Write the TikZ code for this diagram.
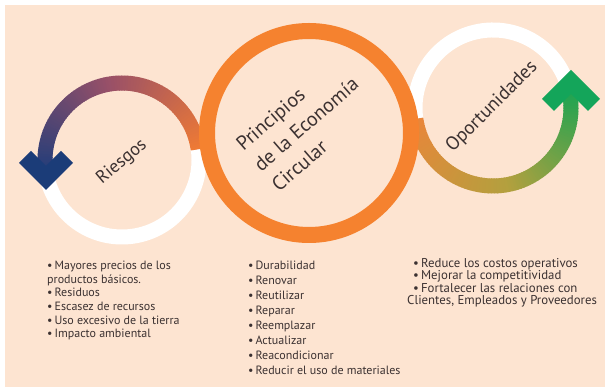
\documentclass[tikz,border=0pt]{standalone}
\usepackage{fontspec}
\setmainfont{PT Sans}
\definecolor{bg}{HTML}{FDE4D1}
\definecolor{txt}{HTML}{3B3131}
\definecolor{orangeM}{HTML}{F5822F}
\definecolor{orangeL}{HTML}{EE7A35}
\definecolor{mauveL}{HTML}{985068}
\definecolor{navyL}{HTML}{1F3D7A}
\definecolor{navyHead}{HTML}{1B3C78}
\definecolor{orangeR}{HTML}{E9863A}
\definecolor{oliveR}{HTML}{B3A03E}
\definecolor{greenR}{HTML}{1CA452}
\definecolor{greenHead}{HTML}{14A55A}
\tikzset{
  lbl/.style={inner sep=0pt, text=txt},
  lst/.style={anchor=north west, inner sep=0pt, align=left, text=txt},
  ringw/.style={white, line width=15pt},
}
\begin{document}
\begin{tikzpicture}[x=1pt,y=1pt]
\fill[white] (0,0) rectangle (605,387);
\fill[bg] (5,0) rectangle (605,382);
\useasboundingbox (0,0) rectangle (605,387);
\coordinate (L) at (122,227);
\coordinate (M) at (309,254);
\coordinate (R) at (493,279);
% white parts
\draw[ringw] ([shift={(188:77)}]L) arc[start angle=188, end angle=368, radius=77];
\draw[ringw] ([shift={(10:78)}]R) arc[start angle=10, end angle=188, radius=78];
% left gradient arc
\foreach \i in {0,...,89}{
  \pgfmathsetmacro\ga{8+\i*(184/90)}
  \pgfmathsetmacro\gb{\ga+184/90+0.6}
  \pgfmathsetmacro\gt{\i/89}
  \ifdim \gt pt < 0.5pt
    \pgfmathsetmacro\gp{\gt*200}
    \colorlet{segc}{mauveL!\gp!orangeL}
  \else
    \pgfmathsetmacro\gp{(\gt-0.5)*200}
    \colorlet{segc}{navyL!\gp!mauveL}
  \fi
  \draw[segc, line width=15pt] ([shift={(\ga:77)}]L) arc[start angle=\ga, end angle=\gb, radius=77];
}
% right gradient arc
\foreach \i in {0,...,89}{
  \pgfmathsetmacro\ga{-172+\i*(186/90)}
  \pgfmathsetmacro\gb{\ga+186/90+0.6}
  \pgfmathsetmacro\gt{\i/89}
  \ifdim \gt pt < 0.5pt
    \pgfmathsetmacro\gp{\gt*200}
    \colorlet{segc}{oliveR!\gp!orangeR}
  \else
    \pgfmathsetmacro\gp{(\gt-0.5)*200}
    \colorlet{segc}{greenR!\gp!oliveR}
  \fi
  \draw[segc, line width=15pt] ([shift={(\ga:78)}]R) arc[start angle=\ga, end angle=\gb, radius=78];
}
% middle ring
\draw[orangeM, line width=16pt] (M) circle[radius=102];
% arrow heads
\fill[navyHead] (46,197) -- (19,224) -- (31,236) -- (46,221) -- (61,236) -- (73,224) -- cycle;
\fill[greenHead] (571,317) -- (542,288) -- (554,276) -- (571,293) -- (588,276) -- (600,288) -- cycle;
% labels
\node[lbl, rotate=40, font=\fontsize{18}{22}\selectfont] (riesgos) at (122,225) {Riesgos};
\node[lbl, rotate=41, align=left, font=\fontsize{20}{27}\selectfont] (principios) at (306,263) {Principios\\de la Economía\\Circular};
\node[lbl, rotate=45, font=\fontsize{19}{22}\selectfont] (oport) at (492,280) {Oportunidades};
% lists
\node[lst, font=\fontsize{12}{13.6}\selectfont] (riesgoslist) at (47,126)
  {•\,Mayores precios de los\\productos básicos.\\•\,Residuos\\•\,Escasez de recursos\\•\,Uso excesivo de la tierra\\•\,Impacto ambiental};
\node[lst, font=\fontsize{12}{15}\selectfont] (principioslist) at (248,126)
  {•\,Durabilidad\\•\,Renovar\\•\,Reutilizar\\•\,Reparar\\•\,Reemplazar\\•\,Actualizar\\•\,Reacondicionar\\•\,Reducir el uso de materiales};
\node[lst, font=\fontsize{12.8}{12.4}\selectfont] (oportlist) at (413,129)
  {•\,Reduce los costos operativos\\•\,Mejorar la competitividad\\•\,Fortalecer las relaciones con\\\hspace*{-6pt}Clientes, Empleados y Proveedores};
\end{tikzpicture}
\end{document}
